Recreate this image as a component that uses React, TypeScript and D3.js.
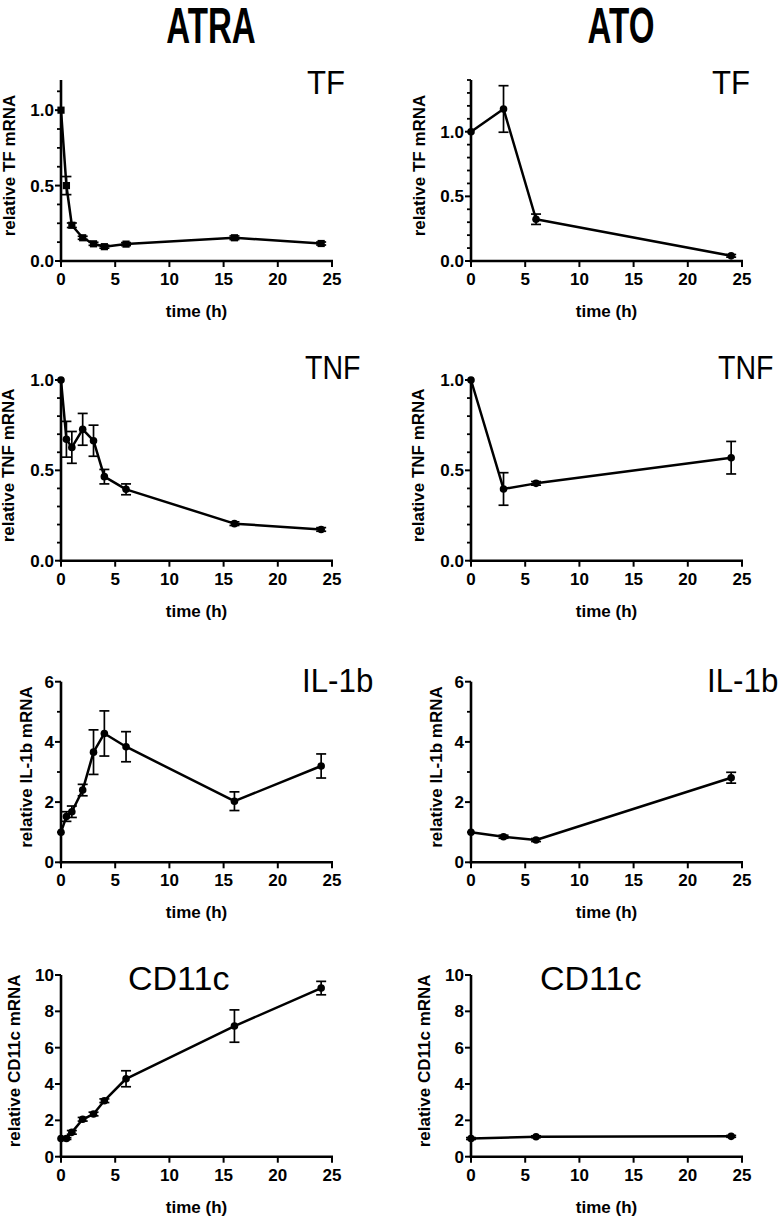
import React from "react";
import * as d3 from "d3";

// ---- data ----
const atraTime = [0, 0.5, 1, 2, 3, 4, 6, 16, 24];
const atoTime = [0, 3, 6, 24];
const atoTimeCD11c = [0, 6, 24];

const atraTF = [1.0, 0.5, 0.237, 0.154, 0.114, 0.095, 0.112, 0.154, 0.116];
const atraTFErr = [0, 0.06, 0.015, 0.01, 0.01, 0.01, 0.01, 0.012, 0.01];
const atoTF = [1.0, 1.176, 0.323, 0.04];
const atoTFErr = [0, 0.18, 0.04, 0.01];

const atraTNF = [1.0, 0.672, 0.627, 0.727, 0.664, 0.465, 0.395, 0.205, 0.173];
const atraTNFErr = [0, 0.099, 0.088, 0.088, 0.086, 0.04, 0.03, 0.01, 0.01];
const atoTNF = [1.0, 0.397, 0.428, 0.57];
const atoTNFErr = [0, 0.09, 0.01, 0.09];

const atraIL1b = [1.0, 1.52, 1.68, 2.4, 3.66, 4.28, 3.84, 2.03, 3.2];
const atraIL1bErr = [0, 0.16, 0.19, 0.19, 0.74, 0.75, 0.5, 0.31, 0.4];
const atoIL1b = [1.0, 0.85, 0.74, 2.81];
const atoIL1bErr = [0, 0.05, 0.05, 0.18];

const atraCD11c = [1.0, 1.0, 1.34, 2.06, 2.35, 3.08, 4.29, 7.19, 9.28];
const atraCD11cErr = [0, 0.05, 0.1, 0.1, 0.1, 0.1, 0.44, 0.89, 0.37];
const atoCD11c = [1.0, 1.1, 1.12];
const atoCD11cErr = [0.05, 0.05, 0.05];

const xTicks = [0, 5, 10, 15, 20, 25];
const xLabel = "time (h)";
const columnTitles = ["ATRA", "ATO"];
const geneTitles = ["TF", "TNF", "IL-1b", "CD11c"];
const yLabels = ["relative TF mRNA", "relative TNF mRNA", "relative IL-1b mRNA", "relative CD11c mRNA"];

const tfMajor = [0, 0.5, 1.0];
const tfAtraMinor = [0.125, 0.25, 0.375, 0.625, 0.75, 0.875, 1.125];
const tfAtoMinor = [0.1, 0.2, 0.3, 0.4, 0.6, 0.7, 0.8, 0.9, 1.1, 1.2, 1.3, 1.4];
const tnfMajor = [0, 0.5, 1.0];
const tnfMinor = [0.1, 0.2, 0.3, 0.4, 0.6, 0.7, 0.8, 0.9];
const il1bMajor = [0, 2, 4, 6];
const il1bMinor = [1, 3, 5];
const cd11cMajor = [0, 2, 4, 6, 8, 10];
const cd11cMinor: number[] = [];

// ---- layout ----
const W = 780;
const H = 1217;
const colX = [61, 471];
const colTitleX = [211, 621];
const plotW = 271;
const rows = [
  { top: 80, bottom: 261, labelOff: 52, titleDx: [246, 241], titleDy: 14, titleSx: 0.915 },
  { top: 380, bottom: 560.7, labelOff: 53, titleDx: [244, 247], titleDy: -1, titleSx: 0.84 },
  { top: 681.7, bottom: 862.3, labelOff: 35, titleDx: [241, 236], titleDy: 10, titleSx: 0.92 },
  { top: 975, bottom: 1156.7, labelOff: 47, titleDx: [67, 69], titleDy: 15, titleSx: 1.0 },
];
const FONT = "'Liberation Sans', Arial, Helvetica, sans-serif";

type PanelSpec = {
  col: number;
  row: number;
  domainMax: number;
  major: number[];
  minor: number[];
  fmt: string;
  times: number[];
  values: number[];
  errs: number[];
  marker: "square" | "circle";
};

const panels: PanelSpec[] = [
  { col: 0, row: 0, domainMax: 1.2, major: tfMajor, minor: tfAtraMinor, fmt: ".1f", times: atraTime, values: atraTF, errs: atraTFErr, marker: "square" },
  { col: 1, row: 0, domainMax: 1.4, major: tfMajor, minor: tfAtoMinor, fmt: ".1f", times: atoTime, values: atoTF, errs: atoTFErr, marker: "circle" },
  { col: 0, row: 1, domainMax: 1.0, major: tnfMajor, minor: tnfMinor, fmt: ".1f", times: atraTime, values: atraTNF, errs: atraTNFErr, marker: "circle" },
  { col: 1, row: 1, domainMax: 1.0, major: tnfMajor, minor: tnfMinor, fmt: ".1f", times: atoTime, values: atoTNF, errs: atoTNFErr, marker: "circle" },
  { col: 0, row: 2, domainMax: 6, major: il1bMajor, minor: il1bMinor, fmt: "d", times: atraTime, values: atraIL1b, errs: atraIL1bErr, marker: "circle" },
  { col: 1, row: 2, domainMax: 6, major: il1bMajor, minor: il1bMinor, fmt: "d", times: atoTime, values: atoIL1b, errs: atoIL1bErr, marker: "circle" },
  { col: 0, row: 3, domainMax: 10, major: cd11cMajor, minor: cd11cMinor, fmt: "d", times: atraTime, values: atraCD11c, errs: atraCD11cErr, marker: "circle" },
  { col: 1, row: 3, domainMax: 10, major: cd11cMajor, minor: cd11cMinor, fmt: "d", times: atoTimeCD11c, values: atoCD11c, errs: atoCD11cErr, marker: "circle" },
];

function Panel({ p }: { p: PanelSpec }) {
  const r = rows[p.row];
  const x0 = colX[p.col];
  const x = d3.scaleLinear().domain([0, 25]).range([x0, x0 + plotW]);
  const y = d3.scaleLinear().domain([0, p.domainMax]).range([r.bottom, r.top]);
  const f = d3.format(p.fmt);
  const pts = p.times.map((t, i) => ({ t, v: p.values[i], e: p.errs[i] }));
  const line = d3
    .line<{ t: number; v: number }>()
    .x((d) => x(d.t))
    .y((d) => y(d.v));
  const cap = 5;
  const midY = (r.top + r.bottom) / 2 - 5;
  const lx = x0 - r.labelOff;
  return (
    <g>
      {/* y axis */}
      <line x1={x0} x2={x0} y1={r.bottom + 1.2} y2={r.top} stroke="#000" strokeWidth={2.6} />
      {p.major.map((v) => (
        <g key={"ym" + v}>
          <line x1={x0 - 6} x2={x0} y1={y(v)} y2={y(v)} stroke="#000" strokeWidth={2} />
          <text
            x={x0 - 7}
            y={y(v)}
            dy="0.36em"
            textAnchor="end"
            fontFamily={FONT}
            fontWeight="bold"
            fontSize={17}
            fill="#000"
          >
            {f(v)}
          </text>
        </g>
      ))}
      {p.minor.map((v) => (
        <line key={"yn" + v} x1={x0 - 4} x2={x0} y1={y(v)} y2={y(v)} stroke="#000" strokeWidth={1.8} />
      ))}
      {/* x axis */}
      <line x1={x0 - 1.2} x2={x0 + plotW + 1} y1={r.bottom} y2={r.bottom} stroke="#000" strokeWidth={2.6} />
      {xTicks.map((t) => (
        <g key={"xt" + t}>
          <line x1={x(t)} x2={x(t)} y1={r.bottom} y2={r.bottom + 6} stroke="#000" strokeWidth={2} />
          <text
            x={x(t)}
            y={r.bottom + 24}
            textAnchor="middle"
            fontFamily={FONT}
            fontWeight="bold"
            fontSize={17}
            fill="#000"
          >
            {t}
          </text>
        </g>
      ))}
      <text
        x={x0 + plotW / 2}
        y={r.bottom + 56}
        textAnchor="middle"
        fontFamily={FONT}
        fontWeight="bold"
        fontSize={17}
        fill="#000"
      >
        {xLabel}
      </text>
      <text
        transform={`translate(${lx},${midY}) rotate(-90)`}
        dy="0.36em"
        textAnchor="middle"
        fontFamily={FONT}
        fontWeight="bold"
        fontSize={17}
        fill="#000"
      >
        {yLabels[p.row]}
      </text>
      <text
        transform={`translate(${x0 + r.titleDx[p.col]},${r.top + r.titleDy}) scale(${r.titleSx},1)`}
        fontFamily={FONT}
        fontSize={34}
        fill="#000"
      >
        {geneTitles[p.row]}
      </text>
      {/* error bars */}
      {pts
        .filter((d) => d.e > 0)
        .map((d, i) => (
          <g key={"e" + i} stroke="#000" strokeWidth={1.7}>
            <line x1={x(d.t)} x2={x(d.t)} y1={y(d.v - d.e)} y2={y(d.v + d.e)} />
            <line x1={x(d.t) - cap} x2={x(d.t) + cap} y1={y(d.v - d.e)} y2={y(d.v - d.e)} />
            <line x1={x(d.t) - cap} x2={x(d.t) + cap} y1={y(d.v + d.e)} y2={y(d.v + d.e)} />
          </g>
        ))}
      <path d={line(pts) || ""} fill="none" stroke="#000" strokeWidth={2.5} strokeLinejoin="round" />
      {pts.map((d, i) =>
        p.marker === "square" ? (
          <rect key={"m" + i} x={x(d.t) - 3.6} y={y(d.v) - 3.6} width={7.2} height={7.2} fill="#000" />
        ) : (
          <circle key={"m" + i} cx={x(d.t)} cy={y(d.v)} r={3.8} fill="#000" />
        )
      )}
    </g>
  );
}

export default function App() {
  return (
    <svg
      width={W}
      height={H}
      viewBox={`0 0 ${W} ${H}`}
      style={{ position: "absolute", left: 0, top: 0, display: "block", background: "#fff" }}
    >
      <rect x={0} y={0} width={W} height={H} fill="#fff" />
      {columnTitles.map((t, i) => (
        <text
          key={t}
          transform={`translate(${colTitleX[i]},43) scale(0.92,1.4)`}
          textAnchor="middle"
          fontFamily={FONT}
          fontWeight="bold"
          fontSize={36}
          fill="#000"
        >
          {t}
        </text>
      ))}
      {panels.map((p, i) => (
        <Panel key={i} p={p} />
      ))}
    </svg>
  );
}
